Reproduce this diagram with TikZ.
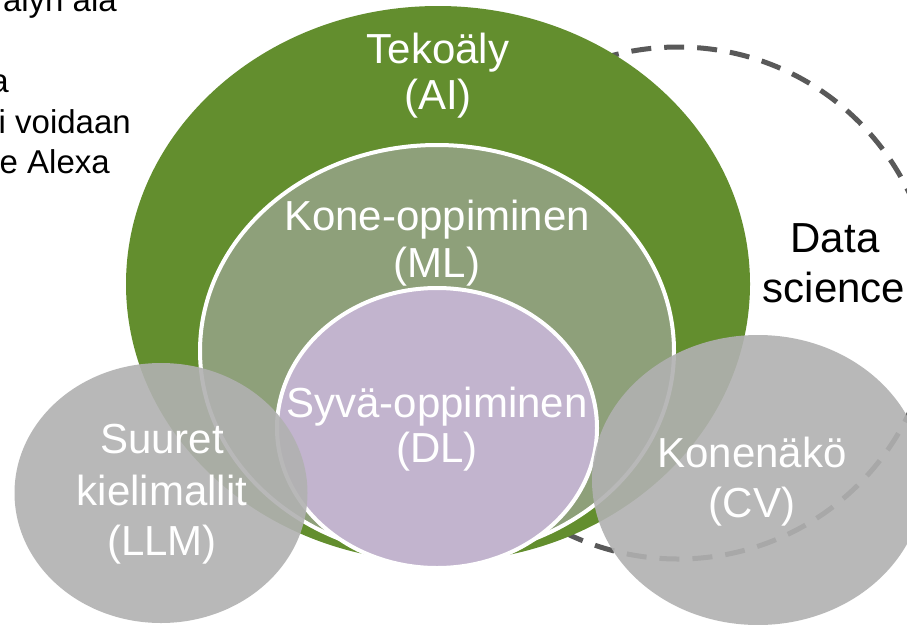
\documentclass[tikz,border=0pt]{standalone}
\usepackage{fontspec}
\setmainfont{Liberation Sans}
\usetikzlibrary{shapes.geometric}
\definecolor{aigreen}{RGB}{99,142,46}
\definecolor{mlgreen}{RGB}{142,160,122}
\definecolor{dlpurple}{RGB}{194,180,206}
\definecolor{bubblegray}{RGB}{177,177,177}
\definecolor{dashgray}{RGB}{89,89,89}
\tikzset{
  blob/.style={ellipse, inner sep=0pt, outer sep=0pt},
  lbl/.style={font=\fontsize{42}{48}\selectfont, text=white, inner sep=0pt, anchor=base},
  dslbl/.style={font=\fontsize{42}{48}\selectfont, text=black, inner sep=0pt, anchor=base},
  note/.style={font=\fontsize{33}{40}\selectfont, text=black, inner sep=0pt, anchor=base east},
  sidebubble/.style={blob, fill=bubblegray, fill opacity=0.9}
}
\begin{document}
\begin{tikzpicture}[x=1pt,y=-1pt]
\useasboundingbox (0,0) rectangle (907,624);
\clip (0,0) rectangle (907,624);
\fill[white] (0,0) rectangle (907,624);

% partially visible text at top left
\node[note] (n1) at (117,11) {älyn ala};
\node[note] (n2) at (9,92) {a};
\node[note] (n3) at (131,133) {i voidaan};
\node[note] (n4) at (110,173) {e Alexa};

% data science dashed circle
\node[circle, minimum size=512pt, inner sep=0pt, draw=dashgray, line width=5pt,
      dash pattern=on 20pt off 13pt] (ds) at (678,303) {};

% nested ellipses
\node[blob, fill=aigreen, minimum width=624pt, minimum height=556pt] (ai) at (438,284) {};
\node[blob, fill=mlgreen, draw=white, line width=4pt, minimum width=474pt, minimum height=412pt] (ml) at (437,351) {};
\node[blob, fill=dlpurple, draw=white, line width=4pt, minimum width=320pt, minimum height=280pt] (dl) at (437,428) {};

% side bubbles
\node[sidebubble, minimum width=293pt, minimum height=260pt] (llm) at (161,493) {};
\node[sidebubble, minimum width=332pt, minimum height=290pt] (cv) at (758,480) {};

% labels
\node[lbl] (ait1) at (438,63) {Tekoäly};
\node[lbl] (ait2) at (438,109) {(AI)};
\node[lbl] (mlt1) at (437,230) {Kone-oppiminen};
\node[lbl] (mlt2) at (437,277) {(ML)};
\node[lbl] (dlt1) at (437,417) {Syvä-oppiminen};
\node[lbl] (dlt2) at (437,462) {(DL)};
\node[lbl] (llmt1) at (162,453) {Suuret};
\node[lbl] (llmt2) at (162,505) {kielimallit};
\node[lbl] (llmt3) at (162,555) {(LLM)};
\node[lbl] (cvt1) at (752,467) {Konenäkö};
\node[lbl] (cvt2) at (752,517) {(CV)};
\node[dslbl] (dst1) at (835,252) {Data};
\node[dslbl] (dst2) at (834,302) {science};
\end{tikzpicture}
\end{document}
